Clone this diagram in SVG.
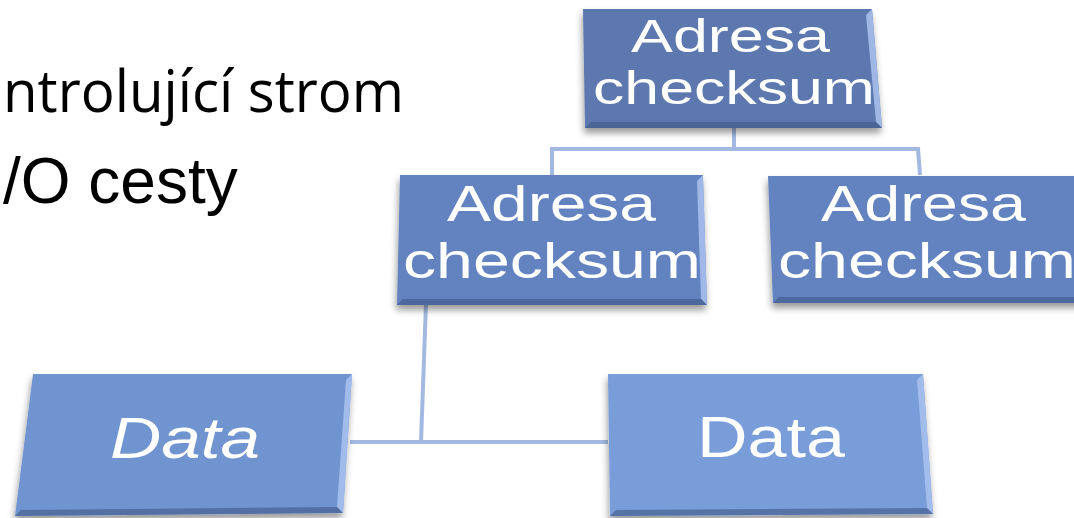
<svg xmlns="http://www.w3.org/2000/svg" width="1074" height="518" viewBox="0 0 1074 518">
  <defs>
    <filter id="shadow" x="-10%" y="-10%" width="120%" height="130%">
      <feDropShadow dx="-1" dy="5" stdDeviation="3.5" flood-color="#000" flood-opacity="0.4"/>
    </filter>
    <style>
      .body-text { font-family: "Liberation Sans", Arial, sans-serif; fill: #000; }
      .lead-text { font-family: "Open Sans", "Noto Sans", sans-serif; fill: #000; }
      .label { font-family: "Liberation Sans", Arial, sans-serif; fill: #fff; font-size: 50px; }
      .label-sm { font-family: "Liberation Sans", Arial, sans-serif; fill: #fff; font-size: 46px; }
      .data-label { font-family: "Liberation Sans", Arial, sans-serif; fill: #fff; font-size: 58px; }
      .bevel-light { fill: #a9c2ee; opacity: 0.85; }
      .bevel-dark { fill: #3f5686; opacity: 0.6; }
      .link { fill: none; stroke: #a3b9e2; stroke-width: 4; }
      .root { fill: #5b78ae; }
      .mid { fill: #6483c0; }
      .leaf-a { fill: #7094d0; }
      .leaf-b { fill: #789dd9; }
    </style>
  </defs>

  <rect width="1074" height="518" fill="#fff"/>

  <!-- slide text -->
  <text class="lead-text" x="3" y="112" font-size="58" textLength="401" lengthAdjust="spacingAndGlyphs">ntrolující strom</text>
  <text class="body-text" x="3" y="203" font-size="64">/O cesty</text>

  <!-- tree connectors -->
  <g id="connectors">
    <path class="link" d="M734 126 V149"/>
    <path class="link" d="M552 175 V149 H918 L920 175"/>
    <path class="link" d="M426 303 L421 442"/>
    <path class="link" d="M350 442 H608"/>
  </g>

  <!-- root node -->
  <g id="node-root">
    <polygon class="root" points="583,9 872,9 882,128 585,128" filter="url(#shadow)"/>
    <polygon class="bevel-light" points="872,9 882,128 876,122 866,15"/>
    <polygon class="bevel-dark" points="585,128 882,128 876,122 591,122"/>
    <text class="label-sm" x="631" y="52" textLength="199" lengthAdjust="spacingAndGlyphs">Adresa</text>
    <text class="label-sm" x="593" y="104" textLength="282" lengthAdjust="spacingAndGlyphs">checksum</text>
  </g>

  <!-- middle left node -->
  <g id="node-mid-left">
    <polygon class="mid" points="400,175 703,175 707,305 397,305" filter="url(#shadow)"/>
    <polygon class="bevel-light" points="703,175 707,305 701,299 697,181"/>
    <polygon class="bevel-dark" points="397,305 707,305 701,299 403,299"/>
    <text class="label" x="447" y="221" textLength="209" lengthAdjust="spacingAndGlyphs">Adresa</text>
    <text class="label" x="403" y="278" textLength="298" lengthAdjust="spacingAndGlyphs">checksum</text>
  </g>

  <!-- middle right node -->
  <g id="node-mid-right">
    <polygon class="mid" points="768,176 1082,176 1086,303 773,303" filter="url(#shadow)"/>
    <polygon class="bevel-dark" points="773,303 1086,303 1080,297 779,297"/>
    <text class="label" x="821" y="221" textLength="205" lengthAdjust="spacingAndGlyphs">Adresa</text>
    <text class="label" x="778" y="278" textLength="298" lengthAdjust="spacingAndGlyphs">checksum</text>
  </g>

  <!-- data leaf left -->
  <g id="node-data-left">
    <polygon class="leaf-a" points="33,374 352,374 343,513 15,516" filter="url(#shadow)"/>
    <polygon class="bevel-light" points="352,374 343,513 337,507 346,380"/>
    <polygon class="bevel-dark" points="15,516 343,513 337,507 21,510"/>
    <text class="data-label" x="110" y="458" font-style="italic" textLength="150" lengthAdjust="spacingAndGlyphs">Data</text>
  </g>

  <!-- data leaf right -->
  <g id="node-data-right">
    <polygon class="leaf-b" points="608,374 923,374 933,514 610,516" filter="url(#shadow)"/>
    <polygon class="bevel-light" points="923,374 933,514 927,508 917,380"/>
    <polygon class="bevel-dark" points="610,516 933,514 927,508 616,510"/>
    <text class="data-label" x="697" y="457" textLength="148" lengthAdjust="spacingAndGlyphs">Data</text>
  </g>
</svg>
